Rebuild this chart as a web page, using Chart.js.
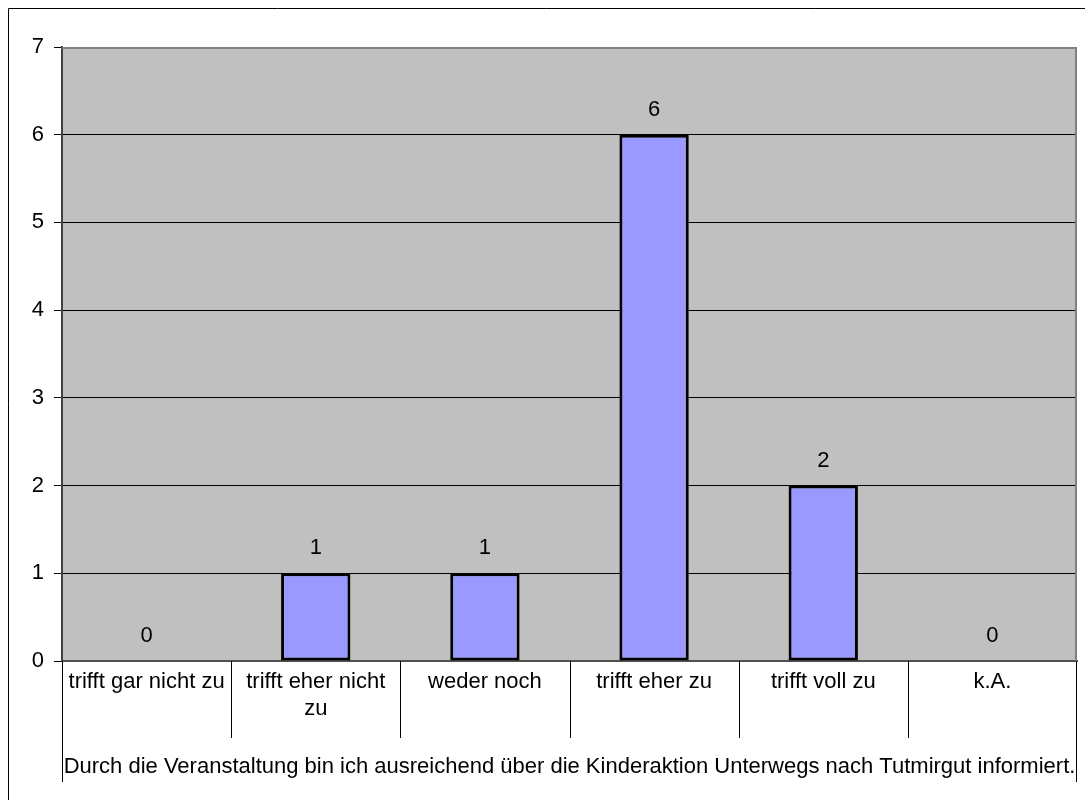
<!DOCTYPE html>
<html>
<head>
<meta charset="utf-8">
<script src="https://cdn.jsdelivr.net/npm/chart.js@4/dist/chart.umd.min.js"></script>
<style>
  html, body { margin: 0; padding: 0; background: #fff; }
  #wrap { width: 1085px; height: 800px; }
</style>
</head>
<body>
<div id="wrap"><canvas id="chart"></canvas></div>
<script>
// data
const categories = ['trifft gar nicht zu', ['trifft eher nicht', 'zu'], 'weder noch', 'trifft eher zu', 'trifft voll zu', 'k.A.'];
const counts = [0, 1, 1, 6, 2, 0];
const yTicks = [0, 1, 2, 3, 4, 5, 6, 7];
const groupLabel = 'Durch die Veranstaltung bin ich ausreichend über die Kinderaktion Unterwegs nach Tutmirgut informiert.';

const FONT = '"Liberation Sans", Arial, sans-serif';
const SIZE = 22;

// gray plot background, outer frame, table lines, group label, value labels
const decor = {
    id: 'decor',
    beforeDraw(chart) {
        const { ctx, chartArea: a } = chart;
        ctx.save();
        ctx.fillStyle = '#fff';
        ctx.fillRect(0, 0, chart.width, chart.height);
        ctx.fillStyle = '#c0c0c0';
        ctx.fillRect(a.left, a.top, a.right - a.left, a.bottom - a.top);
        ctx.restore();
    },
    afterDraw(chart) {
        const { ctx, chartArea: a } = chart;
        ctx.save();

        // frame around the whole chart
        ctx.strokeStyle = '#000';
        ctx.lineWidth = 1;
        ctx.beginPath();
        ctx.moveTo(8.5, chart.height);
        ctx.lineTo(8.5, 8.5);
        ctx.lineTo(chart.width, 8.5);
        ctx.stroke();

        // plot border top/right
        ctx.strokeStyle = '#808080';
        ctx.lineWidth = 2;
        ctx.beginPath();
        ctx.moveTo(a.left, a.top + 1);
        ctx.lineTo(a.right - 1, a.top + 1);
        ctx.lineTo(a.right - 1, a.bottom);
        ctx.stroke();

        // category separators below the axis
        ctx.strokeStyle = '#000';
        ctx.lineWidth = 1;
        const step = (a.right - a.left) / categories.length;
        ctx.beginPath();
        for (let i = 1; i < categories.length; i++) {
            const px = Math.round(a.left + step * i) + 0.5;
            ctx.moveTo(px, a.bottom);
            ctx.lineTo(px, a.bottom + 77);
        }
        ctx.moveTo(a.left + 0.5, a.bottom);
        ctx.lineTo(a.left + 0.5, a.bottom + 121);
        ctx.moveTo(a.right - 0.5, a.bottom);
        ctx.lineTo(a.right - 0.5, a.bottom + 121);
        ctx.stroke();

        // group label
        ctx.fillStyle = '#000';
        ctx.font = SIZE + 'px ' + FONT;
        ctx.textAlign = 'center';
        ctx.textBaseline = 'middle';
        ctx.fillText(groupLabel, (a.left + a.right) / 2, a.bottom + 106);

        // value labels
        const meta = chart.getDatasetMeta(0);
        meta.data.forEach((bar, i) => {
            ctx.fillText(String(counts[i]), bar.x, bar.y - 25);
        });
        ctx.restore();
    }
};

new Chart(document.getElementById('chart'), {
    type: 'bar',
    data: {
        labels: categories,
        datasets: [{
            data: counts,
            backgroundColor: '#9999ff',
            borderColor: '#000',
            borderWidth: 3,
            borderSkipped: false,
            categoryPercentage: 1,
            barPercentage: 0.41
        }]
    },
    options: {
        responsive: true,
        maintainAspectRatio: false,
        animation: false,
        layout: { padding: { left: 0, right: 8, top: 47, bottom: 0 } },
        plugins: {
            legend: { display: false },
            tooltip: { enabled: false }
        },
        scales: {
            x: {
                grid: { display: false, drawTicks: false },
                border: { color: '#505050', width: 2 },
                ticks: {
                    color: '#000',
                    font: { family: FONT, size: SIZE },
                    padding: 8,
                    maxRotation: 0,
                    autoSkip: false
                },
                afterFit(scale) { scale.height = 139; }
            },
            y: {
                min: 0,
                max: 7,
                afterBuildTicks(scale) { scale.ticks = yTicks.map(v => ({ value: v })); },
                grid: {
                    color: '#000',
                    lineWidth: 1,
                    tickLength: 8,
                    tickColor: '#000'
                },
                border: { color: '#404040', width: 2 },
                ticks: {
                    color: '#000',
                    font: { family: FONT, size: SIZE },
                    padding: 10
                },
                afterFit(scale) { scale.width = 62; }
            }
        }
    },
    plugins: [decor]
});
</script>
</body>
</html>
